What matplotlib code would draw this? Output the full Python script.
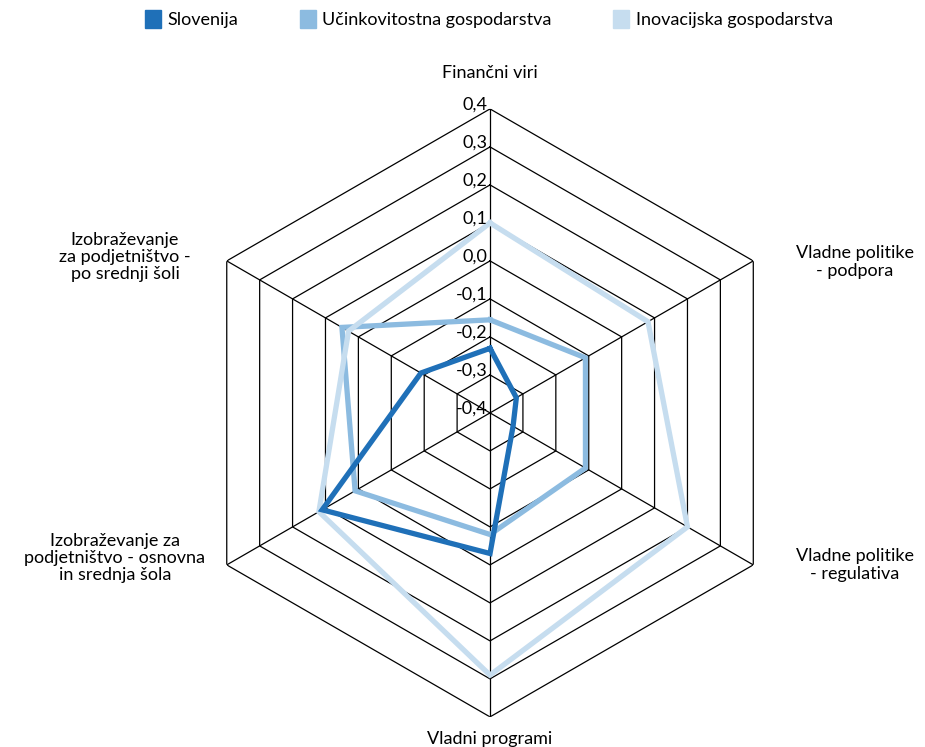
import numpy as np
import matplotlib
matplotlib.use("Agg")
import matplotlib.pyplot as plt
from matplotlib.patches import Patch

plt.rcParams['font.family'] = ['Lato', 'DejaVu Sans']

# axes clockwise from the top
kategorije = ["Finančni viri", "Vladne politike - podpora", "Vladne politike - regulativa",
              "Vladni programi", "Izobraževanje za podjetništvo - osnovna in srednja šola",
              "Izobraževanje za podjetništvo - po srednji šoli"]
slovenija = [-0.23, -0.32, -0.33, -0.03, 0.11, -0.19]
ucinkovitostna = [-0.155, -0.11, -0.11, -0.08, 0.01, 0.05]
inovacijska = [0.10, 0.08, 0.20, 0.29, 0.12, 0.03]
ravni = [-0.4, -0.3, -0.2, -0.1, 0.0, 0.1, 0.2, 0.3, 0.4]
ravni_txt = ["-0,4", "-0,3", "-0,2", "-0,1", "0,0", "0,1", "0,2", "0,3", "0,4"]

serije = [("Slovenija", slovenija, "#1f70b8", 4),
          ("Učinkovitostna gospodarstva", ucinkovitostna, "#8cbbe0", 2),
          ("Inovacijska gospodarstva", inovacijska, "#c6ddef", 3)]

FS = 13

n = len(kategorije)
kot = np.linspace(0, 2 * np.pi, n, endpoint=False)
kot_z = np.append(kot, kot[0])

fig = plt.figure(figsize=(9.25, 7.47), dpi=100)
ax = fig.add_axes([0.2011, 0.0403, 0.6573, 0.8139], projection='polar')
ax.set_theta_offset(np.pi / 2)
ax.set_theta_direction(-1)
ax.set_ylim(-0.4, 0.4)
ax.grid(False)
ax.spines['polar'].set_visible(False)
ax.set_xticks([])
ax.set_yticks([])
ax.patch.set_alpha(0)

# hexagon grid + spokes
for r in ravni[1:]:
    ax.plot(kot_z, [r] * (n + 1), color='black', lw=0.9, zorder=1)
for k in kot:
    ax.plot([k, k], [-0.4, 0.4], color='black', lw=0.9, zorder=1)

for ime, vals, barva, z in serije:
    ax.plot(kot_z, vals + vals[:1], color=barva, lw=3.8, zorder=z,
            solid_joinstyle='miter')

for r, t in zip(ravni, ravni_txt):
    ax.annotate(t, xy=(0, r), xytext=(-2, 3), textcoords='offset points',
                ha='right', va='center', fontsize=FS, zorder=5)

# category labels (Excel style placement)
fig.text(490 / 925, 1 - 73 / 747, "Finančni viri", ha='center', va='center', fontsize=FS)
fig.text(855 / 925, 1 - 262 / 747, "Vladne politike\n- podpora", ha='center', va='center',
         fontsize=FS, linespacing=1.1)
fig.text(855 / 925, 1 - 565 / 747, "Vladne politike\n- regulativa", ha='center', va='center',
         fontsize=FS, linespacing=1.1)
fig.text(490 / 925, 1 - 739 / 747, "Vladni programi", ha='center', va='center', fontsize=FS)
fig.text(115 / 925, 1 - 558 / 747, "Izobraževanje za\npodjetništvo - osnovna\nin srednja šola",
         ha='center', va='center', fontsize=FS, linespacing=1.1)
fig.text(125 / 925, 1 - 257 / 747, "Izobraževanje\nza podjetništvo -\npo srednji šoli",
         ha='center', va='center', fontsize=FS, linespacing=1.1)

ročaji = [Patch(facecolor=b, edgecolor=b, label=i) for i, _, b, _ in serije]
fig.legend(handles=ročaji, loc='center', bbox_to_anchor=(489 / 925, 1 - 19 / 747), ncol=3,
           frameon=False, fontsize=FS, handlelength=0.9, handleheight=1.2,
           handletextpad=0.35, columnspacing=3.4)

fig.savefig("out.png", dpi=100)
